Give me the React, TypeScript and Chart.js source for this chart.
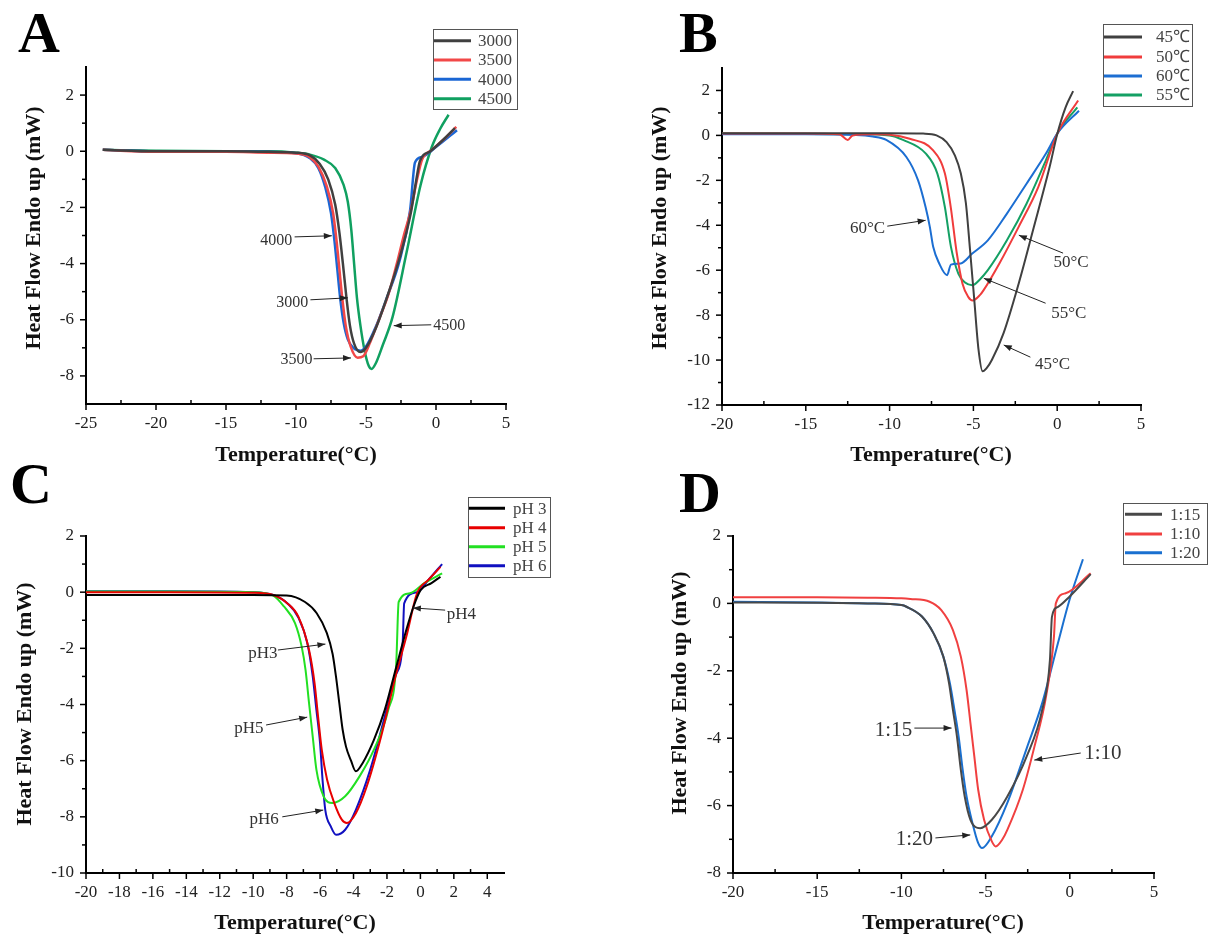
import { useEffect, useRef } from 'react';
import { Chart, registerables } from 'chart.js';
Chart.register(...registerables);

type Pt = [number, number];

// ---------- Panel A (molecular weight) ----------
const A_3000: Pt[] = [[-23.8,0.05],[-20,0.0],[-15,0.0],[-12,-0.02],[-10,-0.05],[-9,-0.15],[-8.3,-0.45],[-7.7,-1.0],[-7.2,-1.9],[-6.9,-2.9],[-6.65,-4.0],[-6.4,-5.2],[-6.15,-6.2],[-5.85,-6.85],[-5.4,-7.15],[-5.0,-7.0],[-4.3,-6.3],[-3.5,-5.2],[-2.6,-3.8],[-1.8,-2.2],[-1.4,-1.0],[-1.15,-0.35],[-0.4,0.0],[0.5,0.4],[1.35,0.82]];
const A_3500: Pt[] = [[-23.8,0.05],[-20,-0.02],[-15,-0.02],[-12,-0.05],[-10,-0.08],[-9,-0.22],[-8.4,-0.55],[-7.8,-1.25],[-7.35,-2.2],[-7.1,-3.2],[-6.9,-4.2],[-6.7,-5.2],[-6.45,-6.2],[-6.1,-6.95],[-5.6,-7.35],[-5.2,-7.3],[-4.7,-6.8],[-4.0,-5.9],[-3.4,-5.1],[-2.8,-4.0],[-2.3,-3.0],[-1.8,-2.1],[-1.35,-1.0],[-1.0,-0.3],[-0.3,0.05],[0.5,0.4],[1.45,0.87]];
const A_4000: Pt[] = [[-23.8,0.05],[-20,0.0],[-15,0.0],[-12,-0.02],[-10,-0.07],[-9,-0.25],[-8.4,-0.6],[-7.9,-1.3],[-7.5,-2.2],[-7.25,-3.2],[-7.05,-4.2],[-6.85,-5.2],[-6.6,-6.1],[-6.3,-6.7],[-5.9,-7.0],[-5.4,-7.1],[-5.0,-6.95],[-4.3,-6.25],[-3.5,-5.2],[-2.6,-3.9],[-1.85,-2.1],[-1.5,-0.4],[-1.0,-0.2],[0,0.15],[1.5,0.75]];
const A_4500: Pt[] = [[-23.8,0.05],[-20,0.02],[-15,0.0],[-12,0.0],[-10,-0.05],[-9,-0.12],[-8,-0.3],[-7.2,-0.6],[-6.6,-1.2],[-6.3,-1.8],[-6.05,-2.8],[-5.85,-4.0],[-5.65,-5.2],[-5.4,-6.2],[-5.1,-7.1],[-4.8,-7.65],[-4.6,-7.75],[-4.3,-7.55],[-3.8,-6.9],[-3.1,-5.9],[-2.1,-3.6],[-1.1,-1.2],[-0.3,0.15],[0.3,0.8],[0.9,1.3]];
const A_X_TICKS = [-25, -20, -15, -10, -5, 0, 5];
const A_Y_TICKS = [-8, -6, -4, -2, 0, 2];

// ---------- Panel B (temperature) ----------
const B_45: Pt[] = [[-20,0.1],[-15,0.1],[-10,0.1],[-8,0.08],[-7.2,0.0],[-6.6,-0.3],[-6.1,-0.9],[-5.75,-1.7],[-5.45,-3.0],[-5.2,-5.1],[-4.95,-7.3],[-4.7,-9.5],[-4.45,-10.5],[-4.2,-10.35],[-3.9,-10.0],[-3.2,-8.8],[-2.3,-6.6],[-1.4,-4.1],[-0.45,-1.4],[0.0,0.05],[0.5,1.25],[0.95,1.97]];
const B_50: Pt[] = [[-20,0.08],[-15,0.08],[-13,0.05],[-12.5,-0.2],[-12.2,0.0],[-11,0.05],[-10,0.03],[-8.8,-0.15],[-7.4,-0.67],[-6.7,-1.7],[-6.35,-3.2],[-6.0,-5.2],[-5.65,-6.6],[-5.3,-7.2],[-5.05,-7.35],[-4.6,-7.1],[-4.4,-6.9],[-3.45,-5.7],[-2.3,-4.07],[-1.13,-2.3],[0.0,0.07],[1.25,1.55]];
const B_60: Pt[] = [[-20,0.05],[-15,0.05],[-12,0.02],[-11,-0.05],[-10.2,-0.2],[-9.0,-0.96],[-8.3,-2.0],[-7.85,-3.2],[-7.6,-4.07],[-7.4,-4.96],[-7.04,-5.7],[-6.57,-6.22],[-6.34,-5.75],[-5.76,-5.7],[-5.07,-5.26],[-4.14,-4.67],[-3.0,-3.48],[-1.83,-2.15],[-0.67,-0.81],[0.02,0.1],[1.3,1.1]];
const B_55: Pt[] = [[-20,0.08],[-15,0.06],[-12,0.05],[-10,0.0],[-9.2,-0.2],[-7.85,-0.8],[-7.15,-1.7],[-6.7,-3.2],[-6.34,-4.96],[-5.9,-6.15],[-5.5,-6.55],[-5.07,-6.67],[-4.6,-6.4],[-4.14,-6.0],[-3.0,-4.67],[-1.83,-3.04],[-0.67,-1.1],[0.02,0.1],[1.2,1.25]];
const B_X_TICKS = [-20, -15, -10, -5, 0, 5];
const B_Y_TICKS = [-12, -10, -8, -6, -4, -2, 0, 2];

// ---------- Panel C (pH) ----------
const C_PH3: Pt[] = [[-20,-0.1],[-15,-0.1],[-10,-0.1],[-8,-0.12],[-6.9,-0.35],[-6.2,-0.75],[-5.6,-1.45],[-5.25,-2.2],[-5.05,-3.0],[-4.85,-3.95],[-4.65,-4.9],[-4.45,-5.5],[-4.15,-6.0],[-3.86,-6.38],[-3.45,-6.08],[-2.78,-5.26],[-2.13,-4.19],[-1.49,-2.77],[-0.84,-1.34],[-0.41,-0.51],[0.02,0.08],[0.66,0.32],[1.2,0.55]];
const C_PH4: Pt[] = [[-20,0.0],[-15,0.0],[-10,-0.02],[-8.8,-0.1],[-7.95,-0.4],[-7.3,-0.87],[-6.66,-2.06],[-6.33,-3.24],[-6.12,-4.43],[-5.9,-5.61],[-5.58,-6.68],[-5.15,-7.51],[-4.7,-8.1],[-4.4,-8.22],[-3.86,-7.87],[-3.21,-6.92],[-2.35,-5.14],[-1.49,-3.0],[-0.84,-1.58],[-0.2,-0.04],[0.5,0.45],[1.2,0.9]];
const C_PH5: Pt[] = [[-20,0.02],[-15,0.02],[-10,0.0],[-8.8,-0.12],[-8.16,-0.51],[-7.5,-1.1],[-7.1,-1.94],[-6.87,-2.77],[-6.66,-3.95],[-6.44,-5.14],[-6.22,-6.32],[-5.79,-7.27],[-5.26,-7.51],[-4.5,-7.27],[-3.64,-6.56],[-2.78,-5.61],[-1.92,-4.19],[-1.45,-2.6],[-1.3,-0.35],[-0.63,-0.04],[0.23,0.32],[1.3,0.67]];
const C_PH6: Pt[] = [[-20,0.03],[-15,0.03],[-10,0.0],[-8.8,-0.1],[-7.95,-0.4],[-7.3,-0.9],[-6.76,-1.82],[-6.44,-3.0],[-6.22,-4.19],[-6.0,-5.38],[-5.85,-6.7],[-5.69,-7.75],[-5.36,-8.34],[-5.04,-8.64],[-4.5,-8.46],[-3.86,-7.75],[-3.0,-6.32],[-2.13,-4.43],[-1.5,-3.0],[-1.06,-1.8],[-0.97,-0.4],[-0.2,0.0],[0.5,0.45],[1.3,1.0]];
const C_X_TICKS = [-20, -18, -16, -14, -12, -10, -8, -6, -4, -2, 0, 2, 4];
const C_Y_TICKS = [-10, -8, -6, -4, -2, 0, 2];

// ---------- Panel D (ratio) ----------
const D_115: Pt[] = [[-20,0.03],[-15,0.02],[-12,0.0],[-10,-0.05],[-9.7,-0.1],[-8.78,-0.39],[-8.09,-0.89],[-7.51,-1.58],[-7.17,-2.37],[-6.94,-3.16],[-6.7,-3.95],[-6.47,-4.94],[-6.24,-5.73],[-5.9,-6.42],[-5.32,-6.67],[-4.63,-6.42],[-3.71,-5.73],[-2.56,-4.54],[-1.64,-3.16],[-1.18,-1.68],[-1.06,-0.4],[-0.7,-0.1],[-0.02,0.2],[1.24,0.87]];
const D_110: Pt[] = [[-20,0.18],[-15,0.18],[-12,0.17],[-10,0.15],[-9.47,0.13],[-8.32,0.05],[-7.63,-0.2],[-6.94,-0.79],[-6.47,-1.58],[-6.13,-2.57],[-5.9,-3.55],[-5.67,-4.54],[-5.44,-5.53],[-5.09,-6.42],[-4.63,-7.06],[-4.4,-7.21],[-4.0,-7.0],[-3.71,-6.72],[-2.79,-5.53],[-2.1,-4.25],[-1.41,-2.76],[-0.94,-0.98],[-0.83,0.0],[-0.25,0.3],[1.24,0.89]];
const D_120: Pt[] = [[-20,0.05],[-15,0.03],[-12,0.0],[-10,-0.05],[-9.7,-0.1],[-8.78,-0.39],[-8.09,-0.89],[-7.51,-1.58],[-7.12,-2.37],[-6.85,-3.16],[-6.6,-3.95],[-6.36,-4.94],[-6.13,-5.73],[-5.78,-6.52],[-5.45,-7.1],[-5.21,-7.26],[-4.63,-6.91],[-3.71,-5.92],[-2.56,-4.3],[-1.64,-2.96],[-0.71,-1.19],[-0.02,0.1],[0.78,1.31]];
const D_X_TICKS = [-20, -15, -10, -5, 0, 5];
const D_Y_TICKS = [-8, -6, -4, -2, 0, 2];

const Y_TITLE = 'Heat Flow Endo up (mW)';
const X_TITLE = 'Temperature(\u00B0C)';

interface Series { label: string; color: string; data: Pt[] }
interface Note { text: string; at: Pt; tail: Pt; tip: Pt }
interface Panel {
  letter: string; letterPos: [number, number];
  xMin: number; xMax: number; yMin: number; yMax: number;
  xTicks: number[]; yTicks: number[];
  area: { left: number; top: number; right: number; bottom: number };
  yTitle: [number, number]; xTitle: [number, number];
  series: Series[]; lineWidth: number;
  notes: Note[]; noteFont: number;
  legend: { box: [number, number, number, number]; rows: number[]; l1: number; l2: number; tx: number; align: CanvasTextAlign };
}

const PANELS: Panel[] = [
  {
    letter: 'A', letterPos: [18, 52],
    xMin: -25, xMax: 5, yMin: -9, yMax: 3, xTicks: A_X_TICKS, yTicks: A_Y_TICKS,
    area: { left: 86, top: 67, right: 506, bottom: 404 },
    yTitle: [34, 228], xTitle: [296, 455],
    series: [
      { label: '3000', color: '#404040', data: A_3000 },
      { label: '3500', color: '#f24848', data: A_3500 },
      { label: '4000', color: '#1a66d4', data: A_4000 },
      { label: '4500', color: '#10a060', data: A_4500 },
    ],
    lineWidth: 2.5,
    notes: [
      { text: '4000', at: [-11.41, -3.19], tail: [-10.1, -3.05], tip: [-7.44, -3.01] },
      { text: '3000', at: [-10.27, -5.4], tail: [-8.97, -5.29], tip: [-6.3, -5.22] },
      { text: '3500', at: [-9.96, -7.42], tail: [-8.74, -7.39], tip: [-6.07, -7.36] },
      { text: '4500', at: [0.95, -6.21], tail: [-0.34, -6.18], tip: [-3.02, -6.21] },
    ],
    noteFont: 16,
    legend: { box: [433, 29, 84, 80], rows: [40.7, 60, 79.3, 98.7], l1: 434, l2: 471, tx: 478, align: 'left' },
  },
  {
    letter: 'B', letterPos: [679, 52],
    xMin: -20, xMax: 5, yMin: -12, yMax: 3, xTicks: B_X_TICKS, yTicks: B_Y_TICKS,
    area: { left: 722, top: 68, right: 1141, bottom: 405 },
    yTitle: [660, 228], xTitle: [931, 455],
    series: [
      { label: '45\u2103', color: '#404040', data: B_45 },
      { label: '50\u2103', color: '#f03c3c', data: B_50 },
      { label: '60\u2103', color: '#1c6ed2', data: B_60 },
      { label: '55\u2103', color: '#14a064', data: B_55 },
    ],
    lineWidth: 2,
    notes: [
      { text: '60\u00B0C', at: [-11.32, -4.13], tail: [-10.14, -4.04], tip: [-7.85, -3.78] },
      { text: '50\u00B0C', at: [0.83, -5.64], tail: [0.35, -5.24], tip: [-2.29, -4.44] },
      { text: '55\u00B0C', at: [0.69, -7.91], tail: [-0.69, -7.47], tip: [-4.38, -6.36] },
      { text: '45\u00B0C', at: [-0.28, -10.22], tail: [-1.6, -9.87], tip: [-3.19, -9.33] },
    ],
    noteFont: 17,
    legend: { box: [1103, 24, 89, 82], rows: [37, 57, 76, 95], l1: 1104, l2: 1142, tx: 1190, align: 'right' },
  },
  {
    letter: 'C', letterPos: [10, 503],
    xMin: -20, xMax: 5, yMin: -10, yMax: 2, xTicks: C_X_TICKS, yTicks: C_Y_TICKS,
    area: { left: 86, top: 536, right: 504, bottom: 873 },
    yTitle: [25, 704], xTitle: [295, 923],
    series: [
      { label: 'pH 3', color: '#000000', data: C_PH3 },
      { label: 'pH 4', color: '#e80000', data: C_PH4 },
      { label: 'pH 5', color: '#22e022', data: C_PH5 },
      { label: 'pH 6', color: '#1010c0', data: C_PH6 },
    ],
    lineWidth: 2,
    notes: [
      { text: 'pH3', at: [-9.42, -2.17], tail: [-8.52, -2.06], tip: [-5.68, -1.85] },
      { text: 'pH5', at: [-10.26, -4.84], tail: [-9.23, -4.73], tip: [-6.77, -4.45] },
      { text: 'pH6', at: [-9.35, -8.11], tail: [-8.26, -8.0], tip: [-5.81, -7.76] },
      { text: 'pH4', at: [2.45, -0.78], tail: [1.48, -0.64], tip: [-0.45, -0.56] },
    ],
    noteFont: 17,
    legend: { box: [468, 497, 82, 80], rows: [508.3, 527.7, 546.7, 565.7], l1: 469, l2: 505, tx: 513, align: 'left' },
  },
  {
    letter: 'D', letterPos: [679, 512],
    xMin: -20, xMax: 5, yMin: -8, yMax: 2, xTicks: D_X_TICKS, yTicks: D_Y_TICKS,
    area: { left: 733, top: 536, right: 1154, bottom: 873 },
    yTitle: [680, 693], xTitle: [943, 923],
    series: [
      { label: '1:15', color: '#484848', data: D_115 },
      { label: '1:10', color: '#f04040', data: D_110 },
      { label: '1:20', color: '#1a70d0', data: D_120 },
    ],
    lineWidth: 2,
    notes: [
      { text: '1:15', at: [-10.47, -3.76], tail: [-9.23, -3.7], tip: [-7.02, -3.7] },
      { text: '1:20', at: [-9.23, -7.02], tail: [-7.98, -6.96], tip: [-5.91, -6.87] },
      { text: '1:10', at: [1.96, -4.44], tail: [0.65, -4.44], tip: [-2.11, -4.65] },
    ],
    noteFont: 21,
    legend: { box: [1123, 503, 84, 61], rows: [514.3, 534, 552.7], l1: 1125, l2: 1162, tx: 1170, align: 'left' },
  },
];

const W = 1208, H = 938, YW = 60, XH = 50;
const SERIF = "'Liberation Serif', 'Times New Roman', serif";

function minors(ticks: number[], min: number, max: number): number[] {
  const out: number[] = [];
  for (let i = 0; i < ticks.length - 1; i++) out.push((ticks[i] + ticks[i + 1]) / 2);
  const step = ticks[1] - ticks[0];
  const lo = ticks[0] - step / 2, hi = ticks[ticks.length - 1] + step / 2;
  if (lo > min) out.push(lo);
  if (hi < max) out.push(hi);
  return out;
}

function arrow(ctx: CanvasRenderingContext2D, x1: number, y1: number, x2: number, y2: number) {
  ctx.beginPath(); ctx.moveTo(x1, y1); ctx.lineTo(x2, y2); ctx.stroke();
  const a = Math.atan2(y2 - y1, x2 - x1), L = 8, w = 3;
  ctx.beginPath();
  ctx.moveTo(x2, y2);
  ctx.lineTo(x2 - L * Math.cos(a) + w * Math.sin(a), y2 - L * Math.sin(a) - w * Math.cos(a));
  ctx.lineTo(x2 - L * Math.cos(a) - w * Math.sin(a), y2 - L * Math.sin(a) + w * Math.cos(a));
  ctx.closePath(); ctx.fill();
}

function panelPlugin(p: Panel) {
  return {
    id: 'panel' + p.letter,
    afterDraw(chart: any) {
      const ctx: CanvasRenderingContext2D = chart.ctx;
      const xs = chart.scales.x, ys = chart.scales.y;
      const { left, bottom } = chart.chartArea;
      ctx.save();
      ctx.strokeStyle = '#000'; ctx.fillStyle = '#000'; ctx.lineWidth = 1.5;
      const seg = (a: number, b: number, c: number, d: number) => { ctx.beginPath(); ctx.moveTo(a, b); ctx.lineTo(c, d); ctx.stroke(); };
      p.xTicks.forEach(v => { const x = xs.getPixelForValue(v); seg(x, bottom, x, bottom + 6); });
      minors(p.xTicks, p.xMin, p.xMax).forEach(v => { const x = xs.getPixelForValue(v); seg(x, bottom, x, bottom - 4); });
      p.yTicks.forEach(v => { const y = ys.getPixelForValue(v); seg(left - 6, y, left, y); });
      minors(p.yTicks, p.yMin, p.yMax).forEach(v => { const y = ys.getPixelForValue(v); seg(left - 4, y, left, y); });

      // annotations
      ctx.strokeStyle = '#222'; ctx.fillStyle = '#222'; ctx.lineWidth = 1;
      ctx.font = `${p.noteFont}px ${SERIF}`;
      ctx.textAlign = 'center'; ctx.textBaseline = 'middle';
      p.notes.forEach(n => {
        arrow(ctx, xs.getPixelForValue(n.tail[0]), ys.getPixelForValue(n.tail[1]), xs.getPixelForValue(n.tip[0]), ys.getPixelForValue(n.tip[1]));
        ctx.fillStyle = '#333';
        ctx.fillText(n.text, xs.getPixelForValue(n.at[0]), ys.getPixelForValue(n.at[1]));
        ctx.fillStyle = '#222';
      });

      // legend
      const lg = p.legend;
      ctx.fillStyle = '#fff';
      ctx.fillRect(lg.box[0], lg.box[1], lg.box[2], lg.box[3]);
      ctx.strokeStyle = '#555'; ctx.lineWidth = 1;
      ctx.strokeRect(lg.box[0] + 0.5, lg.box[1] + 0.5, lg.box[2], lg.box[3]);
      ctx.font = `17px ${SERIF}`; ctx.textAlign = lg.align; ctx.textBaseline = 'middle';
      p.series.forEach((s, i) => {
        const y = lg.rows[i];
        ctx.strokeStyle = s.color; ctx.lineWidth = 3;
        seg(lg.l1, y, lg.l2, y);
        ctx.fillStyle = '#444';
        ctx.fillText(s.label, lg.tx, y + 1);
      });

      // axis titles
      ctx.fillStyle = '#111';
      ctx.font = `bold 22px ${SERIF}`;
      ctx.textAlign = 'center'; ctx.textBaseline = 'middle';
      ctx.fillText(X_TITLE, p.xTitle[0], p.xTitle[1]);
      ctx.save();
      ctx.translate(p.yTitle[0], p.yTitle[1]);
      ctx.rotate(-Math.PI / 2);
      ctx.fillText(Y_TITLE, 0, 0);
      ctx.restore();

      // panel letter
      ctx.font = `bold 58px ${SERIF}`;
      ctx.textAlign = 'left'; ctx.textBaseline = 'alphabetic';
      ctx.fillStyle = '#000';
      ctx.fillText(p.letter, p.letterPos[0], p.letterPos[1]);
      ctx.restore();
    },
  };
}

function makeChart(canvas: HTMLCanvasElement, p: Panel) {
  const tickFont = { family: SERIF, size: 17 };
  return new Chart(canvas, {
    type: 'line',
    data: {
      datasets: p.series.map(s => ({
        label: s.label,
        data: s.data.map(([x, y]) => ({ x, y })),
        borderColor: s.color,
        backgroundColor: s.color,
        borderWidth: p.lineWidth,
        pointRadius: 0,
        fill: false,
        cubicInterpolationMode: 'monotone' as const,
      })),
    },
    options: {
      responsive: false,
      animation: false,
      devicePixelRatio: 1,
      layout: {
        padding: {
          left: p.area.left - YW,
          top: p.area.top,
          right: W - p.area.right,
          bottom: H - p.area.bottom - XH,
        },
      },
      plugins: { legend: { display: false }, tooltip: { enabled: false } },
      scales: {
        x: {
          type: 'linear', min: p.xMin, max: p.xMax,
          afterBuildTicks: (s: any) => { s.ticks = p.xTicks.map(v => ({ value: v })); },
          afterFit: (s: any) => { s.height = XH; },
          grid: { display: false, drawTicks: false },
          border: { display: true, color: '#000', width: 2 },
          ticks: { font: tickFont, color: '#222', padding: 9, maxRotation: 0, autoSkip: false, callback: (v: any) => String(v) },
        },
        y: {
          type: 'linear', min: p.yMin, max: p.yMax,
          afterBuildTicks: (s: any) => { s.ticks = p.yTicks.map(v => ({ value: v })); },
          afterFit: (s: any) => { s.width = YW; },
          grid: { display: false, drawTicks: false },
          border: { display: true, color: '#000', width: 2 },
          ticks: { font: tickFont, color: '#222', padding: 12, autoSkip: false, callback: (v: any) => String(v) },
        },
      },
    } as any,
    plugins: [panelPlugin(p)],
  });
}

export default function App() {
  const refs = useRef<(HTMLCanvasElement | null)[]>([]);
  useEffect(() => {
    const charts = PANELS.map((p, i) => makeChart(refs.current[i]!, p));
    return () => charts.forEach(c => c.destroy());
  }, []);
  return (
    <div style={{ position: 'absolute', left: 0, top: 0, width: W, height: H, background: '#fff', overflow: 'hidden' }}>
      {PANELS.map((p, i) => (
        <canvas
          key={p.letter}
          ref={el => { refs.current[i] = el; }}
          width={W}
          height={H}
          style={{ position: 'absolute', left: 0, top: 0, width: W, height: H }}
        />
      ))}
    </div>
  );
}
